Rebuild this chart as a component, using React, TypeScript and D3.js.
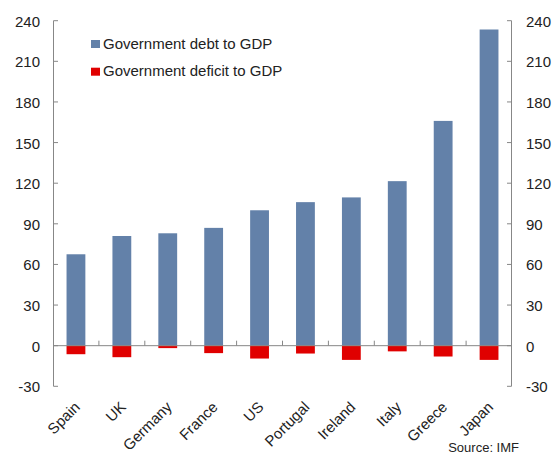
import React from "react";
import * as d3 from "d3";

const countries = ["Spain", "UK", "Germany", "France", "US", "Portugal", "Ireland", "Italy", "Greece", "Japan"];
const debt = [67.5, 81, 83, 87, 100, 106, 109.5, 121.5, 166, 233.5];
const deficit = [-6.3, -8.5, -1.8, -5.5, -9.5, -5.8, -10.5, -4.2, -8, -10.5];
const yTicks = [-30, 0, 30, 60, 90, 120, 150, 180, 210, 240];
const seriesNames = ["Government debt to GDP", "Government deficit to GDP"];

const W = 555, H = 454;
const BLUE = "#6381a9";
const RED = "#e00000";
const AXIS = "#878787";
const TEXT = "#222";
const FONT = "'Liberation Sans', Arial, sans-serif";

export default function App() {
  const x = d3.scaleBand<string>().domain(countries).range([53, 512]).padding(0);
  const y = d3.scaleLinear().domain([-30, 240]).range([386.3, 20.7]);
  const bw = x.bandwidth() * 0.41;
  const y0 = y(0);
  return (
    <svg width={W} height={H} style={{ position: "absolute", left: 0, top: 0 }} fontFamily={FONT}>
      {countries.map((c, i) => {
        const cx = (x(c) as number) + x.bandwidth() / 2;
        return (
          <g key={c}>
            <rect x={cx - bw / 2} y={y(debt[i])} width={bw} height={y0 - y(debt[i])} fill={BLUE} />
            <rect x={cx - bw / 2} y={y0} width={bw} height={y(deficit[i]) - y0} fill={RED} />
          </g>
        );
      })}
      <line x1={53.5} x2={53.5} y1={y(240)} y2={y(-30)} stroke={AXIS} strokeWidth={1} />
      <line x1={511.5} x2={511.5} y1={y(240)} y2={y(-30)} stroke={AXIS} strokeWidth={1} />
      {yTicks.map((t) => (
        <g key={t}>
          <line x1={53.5} x2={58} y1={y(t)} y2={y(t)} stroke={AXIS} />
          <line x1={507} x2={511.5} y1={y(t)} y2={y(t)} stroke={AXIS} />
          <text x={40} y={y(t)} dy="0.4em" textAnchor="end" fontSize={15} fill={TEXT}>{t}</text>
          <text x={526} y={y(t)} dy="0.4em" textAnchor="start" fontSize={15} fill={TEXT}>{t}</text>
        </g>
      ))}
      <line x1={53.5} x2={511.5} y1={y0} y2={y0} stroke={AXIS} />
      {countries.slice(1).map((c) => (
        <line key={c} x1={(x(c) as number)} x2={(x(c) as number)} y1={y0} y2={y0 - 5} stroke={AXIS} />
      ))}
      {countries.map((c) => {
        const cx = (x(c) as number) + x.bandwidth() / 2;
        return (
          <text key={c} transform={`translate(${cx + 5},${408}) rotate(-45)`} textAnchor="end" fontSize={15} fill={TEXT}>{c}</text>
        );
      })}
      {seriesNames.map((s, i) => (
        <g key={s}>
          <rect x={91} y={40 + i * 27.7} width={9} height={8} fill={i === 0 ? BLUE : RED} />
          <text x={103} y={48.5 + i * 27.7} fontSize={15} fill={TEXT}>{s}</text>
        </g>
      ))}
      <text x={519} y={452} textAnchor="end" fontSize={13} fill={TEXT}>Source: IMF</text>
    </svg>
  );
}
